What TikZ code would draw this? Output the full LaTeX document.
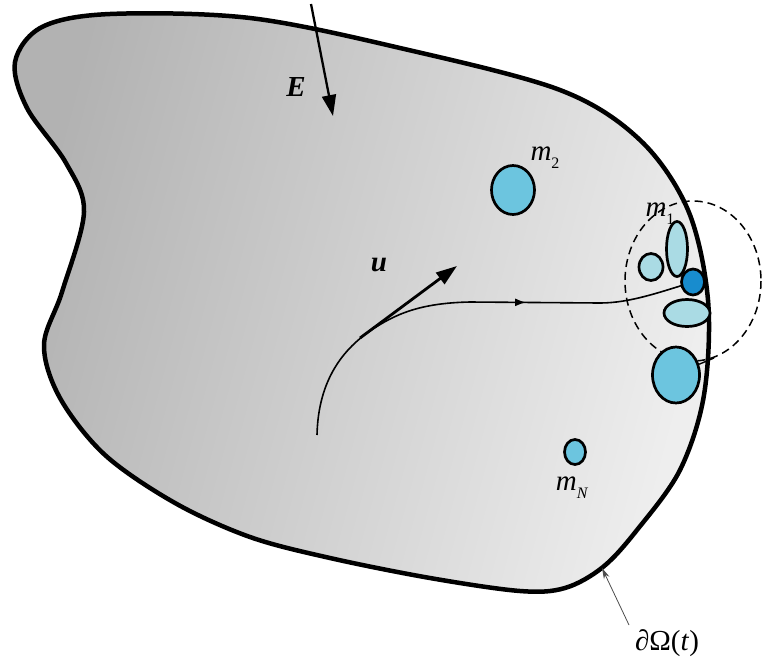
\documentclass[tikz,border=0pt]{standalone}
\usepackage{fontspec}
\setmainfont{Liberation Serif}
\usetikzlibrary{shapes.geometric,arrows.meta,decorations.markings}
\newcommand{\msub}[1]{\textit{m}\raisebox{-0.28em}{\fontsize{16}{18}\selectfont #1}}
\begin{document}
\begin{tikzpicture}[x=1pt,y=-1pt,
  particle/.style={ellipse,draw=black,line width=2.7pt,inner sep=0pt},
  pbig/.style={particle,fill={rgb,255:red,108;green,197;blue,223}},
  plight/.style={particle,fill={rgb,255:red,170;green,219;blue,228}},
  pdark/.style={particle,fill={rgb,255:red,24;green,140;blue,206}},
  lbl/.style={font=\fontsize{29}{30}\selectfont,inner sep=0pt},
  bigarrow/.style={line width=2.8pt,-{Triangle[length=21pt,width=14pt]}}]
\useasboundingbox (0,0) rectangle (763,670);
\def\domainpts{(110,14) (250,18) (400,48) (560,90) (640,140) (688,210) (708,300) (704,395) (680,470) (637,530) (603,567) (565,588) (520,591) (430,578) (330,558) (250,537) (175,503) (105,455) (60,398) (44,345) (62,292) (84,212) (66,163) (27,108) (15,62) (42,27)}
% domain
\shade[left color={rgb,255:red,178;green,178;blue,178},right color={rgb,255:red,238;green,238;blue,238},shading angle=75]
 plot[smooth cycle,tension=0.55] coordinates {\domainpts};
\draw[line width=4.5pt,line join=round]
 plot[smooth cycle,tension=0.55] coordinates {\domainpts};
% dashed circle
\draw[line width=1.5pt,dash pattern=on 8pt off 5pt] (693,281) ellipse [x radius=68, y radius=80];
% trajectory
\draw[line width=1.6pt,postaction={decorate},decoration={markings,mark=at position 0.63 with {\arrow{Latex[length=11pt,width=8pt]}}}]
 (317,435) .. controls (318,390) and (335,355) .. (370,331) .. controls (395,314) and (420,303) .. (470,302) -- (600,303) .. controls (630,303) and (660,292) .. (690,283);
% labels m
\node[lbl] (m1) at (660,214) {\msub{1}};
% particles
\node[plight,minimum width=21pt,minimum height=55pt] (p1) at (677,249) {};
\node[plight,minimum width=24pt,minimum height=27pt] (p2) at (651,267) {};
\node[plight,minimum width=46pt,minimum height=27pt] (p4) at (687,313) {};
\node[pdark,minimum width=23pt,minimum height=26pt] (p3) at (693,282) {};
\node[pbig,minimum width=47pt,minimum height=56pt] (p5) at (676,375) {};
\coordinate (c5) at (714,358);
\draw[line width=1.4pt] (p5.25) -- (c5);
\node[pbig,minimum width=43pt,minimum height=49pt] (m2p) at (513,190) {};
\node[lbl] (m2) at (545,158) {\msub{2}};
\node[pbig,minimum width=21pt,minimum height=25pt] (mNp) at (575,452) {};
\node[lbl] (mN) at (572,488) {\msub{\textit{N}}};
% E arrow
\coordinate (Es) at (311,4);
\coordinate (Ee) at (333,116);
\draw[bigarrow,line width=2.3pt] (Es) -- (Ee);
\node[lbl] (E) at (296,87) {\textbf{\textit{E}}};
% u arrow
\coordinate (us) at (360,338);
\coordinate (ue) at (457,266);
\draw[bigarrow] (us) -- (ue);
\node[lbl] (u) at (379,265) {\textbf{\textit{u}}};
% boundary label
\node[lbl] (om) at (667,643) {∂Ω(\textit{t})};
\coordinate (lead) at (629,625);
\coordinate (bpt) at (602,568);
\draw[line width=0.8pt,black!70,-{Stealth[length=11pt,width=6pt]}] (lead) -- (bpt);
\end{tikzpicture}
\end{document}
